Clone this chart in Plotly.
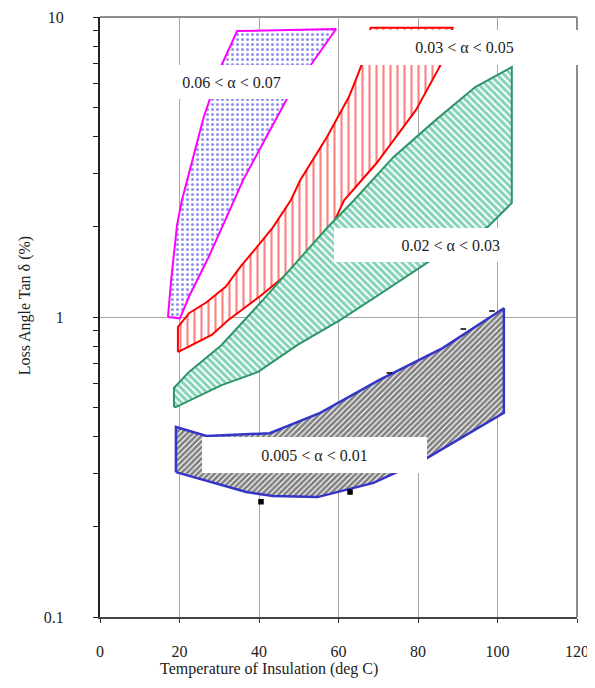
import plotly.graph_objects as go

# ---------------- data ----------------
# Band 0.06 < alpha < 0.07 (polygon, temperature in deg C, tan delta in %)
mag_x = [17.1, 17.9, 19.4, 20.6, 26.1, 30.6, 34.5, 59.4, 47.0, 36.0, 32.3, 27.3, 22.4, 20.1, 17.1]
mag_y = [1.00, 1.33, 2.03, 2.45, 4.64, 6.92, 8.98, 9.12, 5.33, 2.86, 2.22, 1.58, 1.17, 0.99, 1.00]

# Band 0.03 < alpha < 0.05
red_x = [19.6, 19.6, 22.4, 26.8, 31.6, 35.3, 39.3, 43.5, 48.0, 50.4, 57.1, 62.6, 64.1, 65.8, 68.1,
         88.7, 85.7, 79.5, 69.6, 61.4, 57.1, 50.4, 40.5, 32.3, 28.1, 19.6]
red_y = [0.764, 0.926, 1.03, 1.12, 1.26, 1.47, 1.70, 1.99, 2.45, 2.86, 3.98, 5.41, 6.06, 6.92, 9.20,
         9.20, 6.92, 4.90, 3.26, 2.45, 1.85, 1.51, 1.18, 0.977, 0.871, 0.764]

# Band 0.02 < alpha < 0.03
grn_x = [18.6, 18.6, 22.4, 30.6, 41.0, 49.7, 57.1, 63.9, 73.8, 84.5, 94.4, 103.6,
         103.6, 97.6, 82.7, 72.0, 60.4, 49.7, 39.8, 30.6, 19.1, 18.6]
grn_y = [0.501, 0.580, 0.656, 0.807, 1.14, 1.53, 1.98, 2.45, 3.41, 4.54, 5.84, 6.81,
         2.40, 2.00, 1.53, 1.23, 0.977, 0.807, 0.656, 0.593, 0.501, 0.501]

# Band 0.005 < alpha < 0.01
blu_x = [19.1, 19.1, 26.8, 42.7, 55.4, 70.3, 86.2, 101.6,
         101.6, 81.5, 68.8, 54.7, 43.5, 36.8, 19.1]
blu_y = [0.304, 0.430, 0.401, 0.410, 0.479, 0.617, 0.788, 1.07,
         0.479, 0.334, 0.280, 0.251, 0.253, 0.261, 0.304]

# stray measured points
pts_x = [40.5, 62.9, 72.8, 91.4, 98.6]
pts_y = [0.242, 0.261, 0.651, 0.912, 1.047]
pts_sym = ["square", "square", "line-ew", "line-ew", "line-ew"]

labels = ["0.06 < α < 0.07", "0.03 < α < 0.05", "0.02 < α < 0.03", "0.005 < α < 0.01"]

x_ticks = [0, 20, 40, 60, 80, 100, 120]
y_ticks = [0.1, 1, 10]
y_tick_text = ["0.1", "1", "10"]
y_minor = [0.2, 0.3, 0.4, 0.5, 0.6, 0.7, 0.8, 0.9, 2, 3, 4, 5, 6, 7, 8, 9]

FONT = "Liberation Serif"

fig = go.Figure()

fig.add_trace(go.Scatter(
    x=mag_x, y=mag_y, mode="lines", fill="toself",
    line=dict(color="#ff00ff", width=2),
    fillcolor="white",
    fillpattern=dict(shape=".", fgcolor="#2828e0", bgcolor="white", size=5, solidity=0.3),
    hoverinfo="skip", showlegend=False))

fig.add_trace(go.Scatter(
    x=red_x, y=red_y, mode="lines", fill="toself",
    line=dict(color="#ff0000", width=2),
    fillcolor="white",
    fillpattern=dict(shape="|", fgcolor="#ff0000", bgcolor="white", size=7, solidity=0.3),
    hoverinfo="skip", showlegend=False))

fig.add_trace(go.Scatter(
    x=grn_x, y=grn_y, mode="lines", fill="toself",
    line=dict(color="#2f9466", width=2),
    fillcolor="white",
    fillpattern=dict(shape="\\", fgcolor="#0aa874", bgcolor="white", size=5, solidity=0.6),
    hoverinfo="skip", showlegend=False))

fig.add_trace(go.Scatter(
    x=blu_x, y=blu_y, mode="lines", fill="toself",
    line=dict(color="#3535c8", width=2.5),
    fillcolor="white",
    fillpattern=dict(shape="/", fgcolor="#000000", bgcolor="white", size=4, solidity=0.7),
    hoverinfo="skip", showlegend=False))

fig.add_trace(go.Scatter(
    x=pts_x, y=pts_y, mode="markers",
    marker=dict(symbol=pts_sym, size=4, color="black",
                line=dict(color="black", width=1.5)),
    hoverinfo="skip", showlegend=False))

# label boxes (white background text boxes), positions in axis units
# (x in deg C, y as log10 of tan delta)
boxes = [
    dict(x=12.42, y=0.840, w=165, h=34, align="center"),
    dict(x=60.37, y=0.957, w=249, h=35, align="center"),
    dict(x=58.88, y=0.297, w=166, h=34, align="right"),
    dict(x=25.59, y=-0.400, w=225, h=36, align="center"),
]
for lab, b in zip(labels, boxes):
    fig.add_annotation(
        x=b["x"], y=b["y"], xref="x", yref="y", xanchor="left", yanchor="top",
        text=lab, showarrow=False, width=b["w"], height=b["h"], align=b["align"],
        valign="middle", bgcolor="white", borderpad=0, borderwidth=0,
        font=dict(family=FONT, size=16, color="#222222"))

# axis titles
fig.add_annotation(
    x=0.355, y=-0.087, xref="paper", yref="paper", xanchor="center", yanchor="middle",
    text="Temperature of Insulation (deg C)", showarrow=False,
    font=dict(family=FONT, size=16, color="#222222"))
fig.add_annotation(
    x=-0.157, y=0.518, xref="paper", yref="paper", xanchor="center", yanchor="middle",
    text="Loss Angle Tan δ (%)", showarrow=False, textangle=-90,
    font=dict(family=FONT, size=16, color="#222222"))

# top and right frame lines
fig.add_shape(type="line", xref="x domain", yref="y domain", x0=0, x1=1, y0=1, y1=1,
              line=dict(color="#8c8c8c", width=2))
fig.add_shape(type="line", xref="x domain", yref="y domain", x0=1, x1=1, y0=0, y1=1,
              line=dict(color="#8c8c8c", width=2))

fig.update_xaxes(
    range=[0, 120], tickvals=x_ticks, ticks="outside", ticklen=4, tickcolor="#333",
    showgrid=True, gridcolor="#a6a6a6", gridwidth=1, zeroline=False,
    showline=True, linecolor="#444444", linewidth=2, automargin=False,
    ticklabeloverflow="allow",
    tickfont=dict(family=FONT, size=16, color="#222222"), ticklabelstandoff=15)

fig.update_yaxes(
    type="log", range=[-1, 1], tickvals=y_ticks, ticktext=y_tick_text,
    ticks="outside", ticklen=5, tickcolor="#222",
    minor=dict(tickvals=y_minor, ticks="outside", ticklen=5, tickcolor="#222", showgrid=False),
    showgrid=True, gridcolor="#a6a6a6", gridwidth=1, zeroline=False,
    showline=True, linecolor="#222222", linewidth=2, automargin=False,
    ticklabeloverflow="allow",
    tickfont=dict(family=FONT, size=16, color="#222222"), ticklabelstandoff=26)

# the page body adds an 8px offset; size and margins compensate so nothing scrolls
fig.update_layout(
    width=587, height=672,
    margin=dict(l=92, r=18, t=9, b=63),
    paper_bgcolor="white", plot_bgcolor="white",
    showlegend=False)

fig.write_html("out.html")
